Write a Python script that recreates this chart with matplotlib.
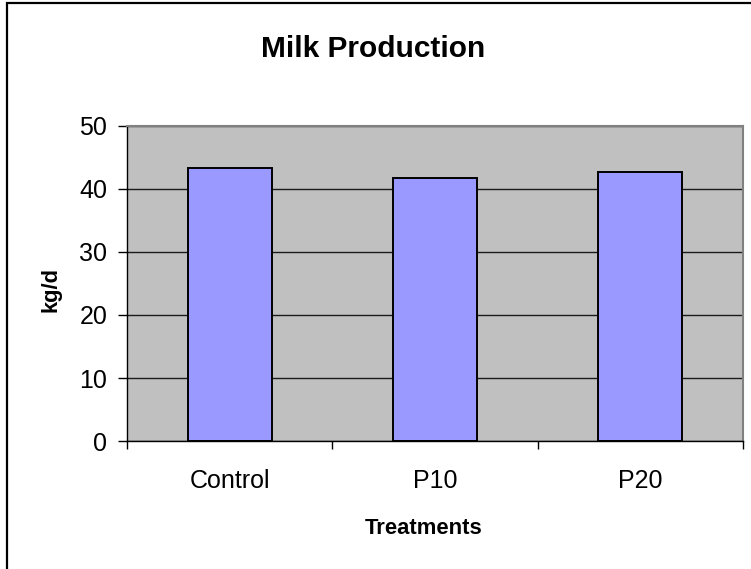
import matplotlib
matplotlib.use("Agg")
import matplotlib.pyplot as plt
from matplotlib import font_manager
from matplotlib.patches import Rectangle
from matplotlib.transforms import blended_transform_factory
import numpy as np

categories = ["Control", "P10", "P20"]
milk_kg_d = [43.3, 41.7, 42.6]
y_ticks = [0, 10, 20, 30, 40, 50]

plt.rcParams["font.family"] = ["Liberation Sans", "DejaVu Sans"]

# narrow bold face for the headings, if one is installed
installed = {f.name for f in font_manager.fontManager.ttflist}
if "Liberation Sans Narrow" in installed:
    head_family, head_scale = ["Liberation Sans Narrow", "DejaVu Sans"], 1.0
else:
    head_family, head_scale = ["Liberation Sans", "DejaVu Sans"], 0.88

W, H = 751, 569
fig = plt.figure(figsize=(W / 100, H / 100), dpi=100)

# outer chart frame (open on the right and bottom edges)
fig.patches.append(Rectangle((7 / W, -0.01), 1.02, 1 - 3 / H + 0.01,
                             transform=fig.transFigure, fill=False,
                             edgecolor="black", linewidth=1.6, zorder=0))

left, right = 127.3 / W, 742.7 / W
top, bottom = 1 - 125.5 / H, 1 - 441.3 / H
ax = fig.add_axes([left, bottom, right - left, top - bottom])
ax.set_facecolor("#C0C0C0")

x = np.arange(len(categories))
ax.bar(x, milk_kg_d, width=0.41, color="#9999FF", edgecolor="black",
       linewidth=1.4, zorder=3)

ax.set_xlim(-0.5, len(categories) - 0.5)
ax.set_ylim(0, 50)
ax.set_yticks(y_ticks)
ax.yaxis.grid(True, color="#1a1a1a", linewidth=1.0, zorder=1)
ax.set_axisbelow(True)

# category boundaries carry the ticks; names sit in between
ax.set_xticks(np.arange(-0.5, len(categories), 1.0))
ax.set_xticklabels([])
ax.tick_params(axis="x", direction="out", length=6, width=1.0)
ax.tick_params(axis="y", direction="out", length=6.5, width=1.0, pad=8,
               labelsize=18)

trans = blended_transform_factory(ax.transData, fig.transFigure)
for xi, name in zip(x, categories):
    ax.text(xi, 1 - 488 / H, name, transform=trans, ha="center",
            va="baseline", fontsize=18)

for s in ("left", "bottom"):
    ax.spines[s].set_color("black")
    ax.spines[s].set_linewidth(1.0)
for s in ("top", "right"):
    ax.spines[s].set_color("#808080")
    ax.spines[s].set_linewidth(1.5)

fig.text(373.5 / W, 1 - 56.7 / H, "Milk Production", ha="center",
         va="baseline", fontsize=24.5 * head_scale, fontweight="bold",
         family=head_family)
fig.text(423.5 / W, 1 - 534 / H, "Treatments", ha="center", va="baseline",
         fontsize=18 * head_scale, fontweight="bold", family=head_family)
fig.text(51 / W, 1 - 289 / H, "kg/d", ha="center", va="center",
         rotation=90, fontsize=18 * head_scale, fontweight="bold",
         family=head_family)

fig.savefig("out.png", dpi=100)
